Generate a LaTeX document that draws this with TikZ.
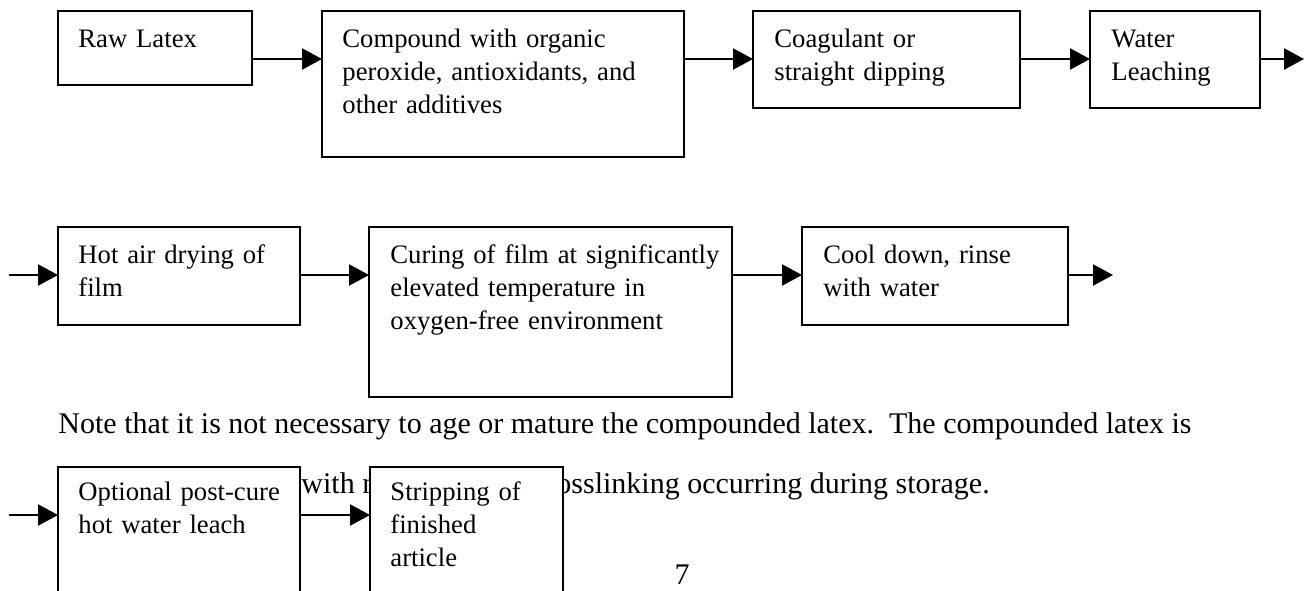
\documentclass[tikz,border=0pt]{standalone}
\usepackage{fontspec}
\setmainfont{Liberation Serif}
\usetikzlibrary{arrows.meta,calc}
\tikzset{
  box/.style={draw=black, line width=0.9pt, fill=white, anchor=north west, inner sep=0pt, outer sep=0pt},
  txt/.style={anchor=base west, inner sep=0pt, align=left, text width=200pt, font=\fontsize{12}{14.85}\selectfont},
  body/.style={inner sep=0pt, font=\fontsize{13.5}{16}\selectfont},
  arr/.style={draw=black, line width=0.9pt, -{Triangle[length=9pt,width=9.5pt]}}
}
\begin{document}
\begin{tikzpicture}[x=0.45pt,y=-0.45pt]
\useasboundingbox (0,0) rectangle (1304,590);
\clip (0,0) rectangle (1304,590);
% body text (partly covered by boxes)
\node[body, anchor=base west] (note) at (58,433) {Note that it is not necessary to age or mature the compounded latex.\ \ The compounded latex is};
\node[body, anchor=base west] (with) at (301,493) {with n};
\node[body, anchor=base west] (cross) at (556,493) {osslinking occurring during storage.};
\node[body, anchor=base] (page) at (682,584) {7};
% row 1
\node[box, minimum width=194*0.45pt, minimum height=74*0.45pt] (raw) at (58,11) {};
\node[box, minimum width=362*0.45pt, minimum height=146*0.45pt] (comp) at (322,11) {};
\node[box, minimum width=267*0.45pt, minimum height=97*0.45pt] (coag) at (753,11) {};
\node[box, minimum width=170*0.45pt, minimum height=97*0.45pt] (water) at (1090,11) {};
% row 2
\node[box, minimum width=242*0.45pt, minimum height=98*0.45pt] (hot) at (58,227) {};
\node[box, minimum width=363*0.45pt, minimum height=170*0.45pt] (cure) at (369,227) {};
\node[box, minimum width=266*0.45pt, minimum height=98*0.45pt] (cool) at (802,227) {};
% row 3
\node[box, minimum width=242*0.45pt, minimum height=150*0.45pt] (opt) at (58,467) {};
\node[box, minimum width=193*0.45pt, minimum height=150*0.45pt] (strip) at (370,467) {};
% texts
\node[txt] (rawt) at ($(raw.north west)+(20,36)$) {Raw Latex};
\node[txt] (compt) at ($(comp.north west)+(20,36)$) {Compound with organic\\peroxide, antioxidants, and\\other additives};
\node[txt] (coagt) at ($(coag.north west)+(21,36)$) {Coagulant or\\straight dipping};
\node[txt] (watert) at ($(water.north west)+(21,36)$) {Water\\Leaching};
\node[txt] (hott) at ($(hot.north west)+(20,36)$) {Hot air drying of\\film};
\node[txt] (curet) at ($(cure.north west)+(21,36)$) {Curing of film at significantly\\elevated temperature in\\oxygen-free environment};
\node[txt] (coolt) at ($(cool.north west)+(21,36)$) {Cool down, rinse\\with water};
\node[txt] (optt) at ($(opt.north west)+(20,33)$) {Optional post-cure\\hot water leach};
\node[txt] (stript) at ($(strip.north west)+(20,33)$) {Stripping of\\finished\\article};
% connector rows
\coordinate (r1) at (0,59);
\coordinate (r2) at (0,275);
\coordinate (r3) at (0,515);
\coordinate (e1) at (1304,59);
\coordinate (s2) at (9,275);
\coordinate (e2) at (1113,275);
\coordinate (s3) at (9,515);
\draw[arr] (raw.east |- r1) -- (comp.west |- r1);
\draw[arr] (comp.east |- r1) -- (coag.west |- r1);
\draw[arr] (coag.east |- r1) -- (water.west |- r1);
\draw[arr] (water.east |- r1) -- (e1);
\draw[arr] (s2) -- (hot.west |- r2);
\draw[arr] (hot.east |- r2) -- (cure.west |- r2);
\draw[arr] (cure.east |- r2) -- (cool.west |- r2);
\draw[arr] (cool.east |- r2) -- (e2);
\draw[arr] (s3) -- (opt.west |- r3);
\draw[arr] (opt.east |- r3) -- (strip.west |- r3);
\end{tikzpicture}
\end{document}
